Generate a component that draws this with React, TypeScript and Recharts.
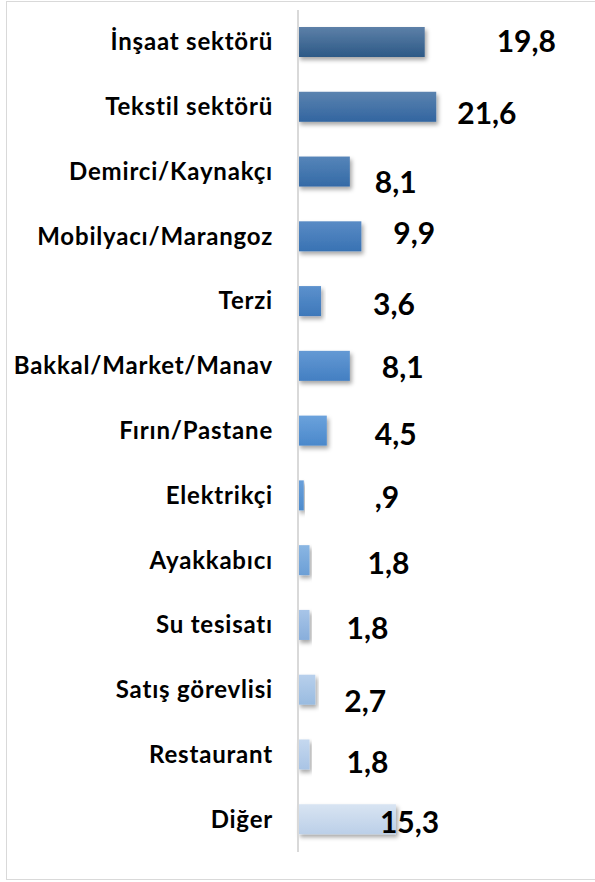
import React from "react";
import { BarChart, Bar, XAxis, YAxis, LabelList } from "recharts";

const categories = [
  "İnşaat sektörü",
  "Tekstil sektörü",
  "Demirci/Kaynakçı",
  "Mobilyacı/Marangoz",
  "Terzi",
  "Bakkal/Market/Manav",
  "Fırın/Pastane",
  "Elektrikçi",
  "Ayakkabıcı",
  "Su tesisatı",
  "Satış görevlisi",
  "Restaurant",
  "Diğer",
];
const values = [19.8, 21.6, 8.1, 9.9, 3.6, 8.1, 4.5, 0.9, 1.8, 1.8, 2.7, 1.8, 15.3];

// gradient top / bottom per bar
const barTop = [
  "#5d80a8", "#5b83af", "#5685b9", "#5a8bc5", "#5c91cd", "#6499d4", "#6ba2dc",
  "#6aa0da", "#8ab6e3", "#a8c5e8", "#b8d0ec", "#c5d8ef", "#d8e4f2",
];
const barBottom = [
  "#2c5986", "#3265a0", "#346aa6", "#3872b3", "#3d78ba", "#437fc2", "#4a88cb",
  "#4d8bcd", "#6c9fd6", "#88aedb", "#99bbe0", "#a9c4e5", "#bbcfe8",
];
// manual label nudges (from bar end / bar centre), like the original
const labelDx = [72, 21, 25, 32, 52, 32, 48, 71, 58, 37, 29, 37, -16];
const labelDy = [-1, 6, 10, -3, 3, 1, 3, 2, 3, 3, 11, 8, 3];

const data = categories.map((name, i) => ({ name, value: values[i] }));

const fmt = (v: number) => {
  const s = v.toFixed(1).replace(".", ",");
  return v < 1 ? s.replace(/^0/, "") : s;
};

const FONT = "Lato, 'Open Sans', sans-serif";

const GradBar = (props: any) => {
  const { x, y, width, height, index } = props;
  const id = `bar-grad-${index}`;
  return (
    <g>
      <defs>
        <linearGradient id={id} x1="0" y1="0" x2="0" y2="1">
          <stop offset="0%" stopColor={barTop[index]} />
          <stop offset="100%" stopColor={barBottom[index]} />
        </linearGradient>
      </defs>
      <rect
        x={x}
        y={y}
        width={width}
        height={height}
        fill={`url(#${id})`}
        filter="url(#bar-shadow)"
      />
    </g>
  );
};

const CategoryTick = (props: any) => {
  const { x, y, payload } = props;
  return (
    <text
      x={x}
      y={y}
      dy={8}
      textAnchor="end"
      fontFamily={FONT}
      fontWeight={700}
      fontSize={24}
      letterSpacing={0.8}
      fill="#000"
    >
      {payload.value}
    </text>
  );
};

const ValueLabel = (props: any) => {
  const { x, y, width, height, value, index } = props;
  return (
    <text
      x={x + width + labelDx[index]}
      y={y + height / 2 + labelDy[index] + 11}
      textAnchor="start"
      fontFamily={FONT}
      fontWeight={700}
      fontSize={30}
      fill="#000"
    >
      {fmt(value)}
    </text>
  );
};

export default function App() {
  return (
    <div style={{ position: "absolute", left: 0, top: 0, width: 595, height: 882, background: "#fff" }}>
      <div
        style={{
          position: "absolute",
          left: 6,
          top: 1,
          width: 600,
          height: 879,
          border: "1.5px solid #d9d9d9",
          boxSizing: "border-box",
        }}
      />
      <div style={{ position: "absolute", left: 0, top: 0 }}>
        <BarChart
          width={595}
          height={882}
          data={data}
          layout="vertical"
          margin={{ top: 10, right: 41, bottom: 30, left: 0 }}
        >
          <defs>
            <filter id="bar-shadow" x="-10%" y="-20%" width="130%" height="170%">
              <feDropShadow dx="2" dy="3" stdDeviation="2" floodColor="#000" floodOpacity="0.35" />
            </filter>
          </defs>
          <XAxis type="number" domain={[0, 40]} hide />
          <YAxis
            type="category"
            dataKey="name"
            width={298}
            axisLine={{ stroke: "#d9d9d9", strokeWidth: 2 }}
            tickLine={false}
            tickSize={0}
            tickMargin={25}
            tick={<CategoryTick />}
            interval={0}
          />
          <Bar dataKey="value" barSize={30} shape={<GradBar />} isAnimationActive={false}>
            <LabelList dataKey="value" content={<ValueLabel />} />
          </Bar>
        </BarChart>
      </div>
    </div>
  );
}
